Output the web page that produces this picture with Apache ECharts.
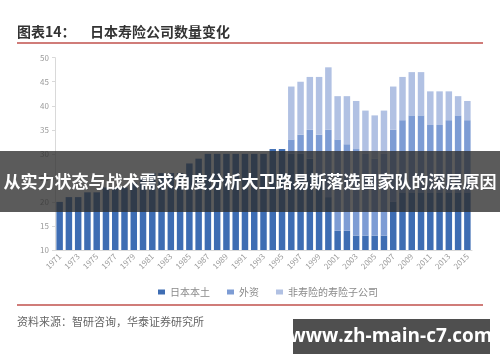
<!DOCTYPE html>
<html><head><meta charset="utf-8">
<script src="https://cdn.jsdelivr.net/npm/echarts@6/dist/echarts.min.js"></script>
<style>html,body{margin:0;padding:0;background:#fff;}#c{width:500px;height:362px;}</style>
</head><body><div id="c"></div>
<script>
const years = ['1971','1972','1973','1974','1975','1976','1977','1978','1979','1980','1981','1982','1983','1984','1985','1986','1987','1988','1989','1990','1991','1992','1993','1994','1995','1996','1997','1998','1999','2000','2001','2002','2003','2004','2005','2006','2007','2008','2009','2010','2011','2012','2013','2014','2015'];
const domestic = [20,21,21,22,22,23,23,23,24,25,26,26,26,26,28,29,30,30,30,30,30,30,30,31,31,30,30,29,25,21,14,14,13,13,13,13,20,22,22,22,22,22,22,22,22];
const foreign  = [0,0,0,0,0,0,0,0,0,0,0,0,0,0,0,0,0,0,0,0,0,0,0,0,0,3,4,6,9,14,19,18,18,17,16,17,15,15,16,16,14,14,15,16,15];
const nonlifeSub = [0,0,0,0,0,0,0,0,0,0,0,0,0,0,0,0,0,0,0,0,0,0,0,0,0,11,11,11,12,13,9,10,10,9,9,9,9,9,9,9,7,7,6,4,4];
const seriesNames = ['日本本土','外资','非寿险的寿险子公司'];
const yTicks = {min:10, max:50, interval:5};

const chart = echarts.init(document.getElementById('c'), null, {renderer:'canvas'});
const colors = ['#3e6db3','#7d9cd4','#b1c1e3'];
const cjk = '"Noto Sans CJK SC","Noto Sans",sans-serif';
chart.setOption({
  animation:false,
  textStyle:{fontFamily:cjk},
  grid:{left:55, right:28, top:57.7, bottom:112},
  legend:{
    top:282, left:153, itemWidth:7, itemHeight:5, itemGap:17, icon:'rect',
    textStyle:{fontSize:10, color:'#8a8a8a', fontFamily:cjk},
    data:seriesNames
  },
  xAxis:{
    type:'category', data:years,
    axisLine:{show:true, lineStyle:{color:'#d9d9d9'}},
    axisTick:{show:false},
    axisLabel:{interval:1, rotate:45, fontSize:8, color:'#9a9a9a', margin:5}
  },
  yAxis:{
    type:'value', min:yTicks.min, max:yTicks.max, interval:yTicks.interval,
    axisLine:{show:true, lineStyle:{color:'#d9d9d9'}},
    axisTick:{show:true, length:3, lineStyle:{color:'#d9d9d9'}},
    splitLine:{show:false},
    axisLabel:{fontSize:8, color:'#9a9a9a', margin:6}
  },
  series:[
    {name:seriesNames[0], type:'bar', stack:'s', data:domestic, barCategoryGap:'30%', itemStyle:{color:colors[0]}},
    {name:seriesNames[1], type:'bar', stack:'s', data:foreign, itemStyle:{color:colors[1]}},
    {name:seriesNames[2], type:'bar', stack:'s', data:nonlifeSub, itemStyle:{color:colors[2]}}
  ],
  graphic:[
    {type:'text', left:17, top:25, style:{text:'图表14：', fontSize:14, fontWeight:'bold', fill:'#333', fontFamily:cjk}},
    {type:'text', left:90, top:25, style:{text:'日本寿险公司数量变化', fontSize:14, fontWeight:'bold', fill:'#333', fontFamily:cjk}},
    {type:'line', shape:{x1:17,y1:43,x2:483,y2:43}, style:{stroke:'#c0504d', lineWidth:1.5}},
    {type:'line', shape:{x1:17,y1:305,x2:483,y2:305}, style:{stroke:'#c0504d', lineWidth:1.5}},
    {type:'text', left:17, top:316, style:{text:'资料来源：智研咨询，华泰证券研究所', fontSize:11, fill:'#666', fontFamily:cjk}},
    {type:'rect', shape:{x:0,y:151,width:500,height:61}, style:{fill:'rgba(45,45,45,0.78)'}, z:100},
    {type:'text', x:250, y:182, style:{text:'从实力状态与战术需求角度分析大卫路易斯落选国家队的深层原因', fontSize:17, fontWeight:'bold', fill:'#fff', align:'center', verticalAlign:'middle', fontFamily:cjk}, z:101},
    {type:'rect', shape:{x:293,y:319,width:197,height:35}, style:{fill:'rgba(70,70,70,0.95)'}, z:100},
    {type:'text', x:391, y:337, style:{text:'www.zh-main-c7.com', fontSize:19, fontWeight:'bold', fill:'#fff', align:'center', verticalAlign:'middle', fontFamily:'"Open Sans","DejaVu Sans",sans-serif'}, z:101}
  ]
});
</script></body></html>
